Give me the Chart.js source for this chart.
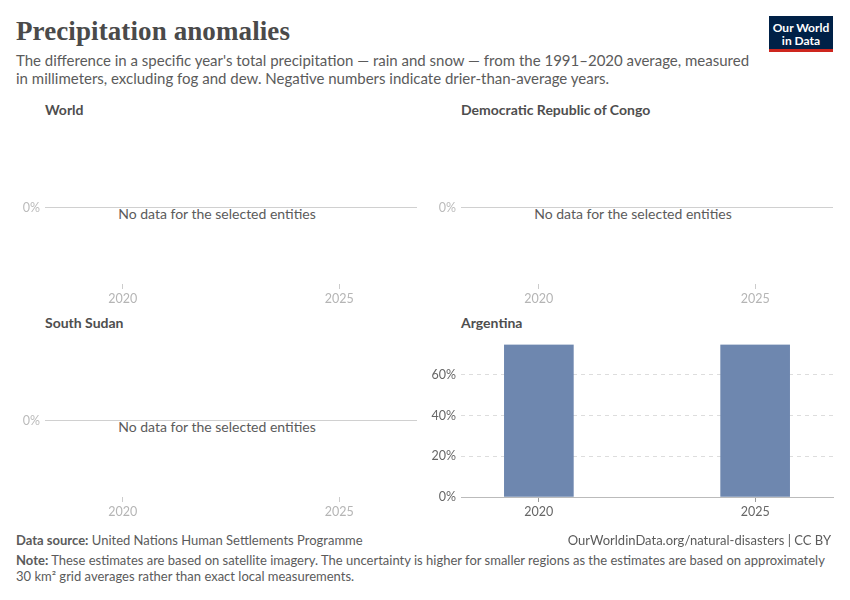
<!DOCTYPE html>
<html>
<head>
<meta charset="utf-8">
<script src="https://cdn.jsdelivr.net/npm/chart.js@4.4.0/dist/chart.umd.min.js"></script>
<style>
  html, body { margin:0; padding:0; background:#fff; }
  body { width:850px; height:600px; position:relative; overflow:hidden; font-family: Lato, "Noto Sans", sans-serif; }
  .abs { position:absolute; }
  #title { left:16px; top:16px; font-family:"Liberation Serif", "DejaVu Serif", serif; font-size:27px; color:#4a4a4a; font-weight:bold; letter-spacing:0.1px; }
  #subtitle { left:16px; top:51px; width:745px; font-size:15px; line-height:18px; color:#5b5b5b; }
  .ptitle { font-size:14px; font-weight:bold; color:#4e4e4e; }
  .nodata { font-size:14px; color:#5b5b5b; text-align:center; width:400px; }
  .foot { font-size:13px; color:#5b5b5b; }
  #logo { left:769px; top:16px; width:64px; height:36px; background:#002147; color:#fff; font-size:12px; font-weight:bold; line-height:13px; text-align:center; box-sizing:border-box; padding-top:5px; border-bottom:3px solid #ce261e; }
  canvas { position:absolute; }
</style>
</head>
<body>
<div id="title" class="abs">Precipitation anomalies</div>
<div id="subtitle" class="abs">The difference in a specific year's total precipitation — rain and snow — from the 1991–2020 average, measured in millimeters, excluding fog and dew. Negative numbers indicate drier-than-average years.</div>
<div id="logo" class="abs">Our World<br>in Data</div>

<div class="abs ptitle" style="left:45px;top:101px;">World</div>
<div class="abs ptitle" style="left:461px;top:101px;">Democratic Republic of Congo</div>
<div class="abs ptitle" style="left:45px;top:314px;">South Sudan</div>
<div class="abs ptitle" style="left:461px;top:314px;">Argentina</div>

<div class="abs nodata" style="left:17px;top:205px;">No data for the selected entities</div>
<div class="abs nodata" style="left:433px;top:205px;">No data for the selected entities</div>
<div class="abs nodata" style="left:17px;top:418px;">No data for the selected entities</div>

<canvas id="c1" style="left:0;top:119px;" width="425" height="192"></canvas>
<canvas id="c2" style="left:420px;top:119px;" width="430" height="192"></canvas>
<canvas id="c3" style="left:0;top:332px;" width="425" height="192"></canvas>
<canvas id="c4" style="left:420px;top:332px;" width="430" height="192"></canvas>

<div class="abs foot" style="left:16px;top:532px;"><b>Data source:</b> United Nations Human Settlements Programme</div>
<div class="abs foot" style="right:19px;top:532px;">OurWorldinData.org/natural-disasters | CC BY</div>
<div class="abs foot" style="left:16px;top:553px;width:812px;line-height:15.5px;font-size:13px;"><b>Note:</b> These estimates are based on satellite imagery. The uncertainty is higher for smaller regions as the estimates are based on approximately 30&nbsp;km² grid averages rather than exact local measurements.</div>

<script>
// ---- data ----
const years = [2020, 2025];
const xTicks = [2020, 2025];
const worldValues = [];
const drcValues = [];
const southSudanValues = [];
const argentinaValues = [75, 75];
const argentinaYTicks = [0, 20, 40, 60];
const emptyYTicks = [0];

Chart.defaults.font.family = 'Lato, "Noto Sans", sans-serif';
Chart.defaults.animation = false;

function pts(vals) { return vals.map((v, i) => ({ x: years[i], y: v })); }

function makeChart(id, vals, opts) {
  const hasData = vals.length > 0;
  const labelColor = hasData ? '#666' : '#b5b5b5';
  return new Chart(document.getElementById(id), {
    type: 'bar',
    data: { datasets: [{ data: pts(vals), backgroundColor: '#6e87af', borderWidth: 0, barThickness: 69 }] },
    options: {
      responsive: false,
      layout: { padding: { left: 0, right: opts.padRight, top: 0, bottom: 0 } },
      plugins: { legend: { display: false }, tooltip: { enabled: false } },
      scales: {
        x: {
          type: 'linear', min: 2018.2, max: 2026.8, offset: false,
          afterBuildTicks: s => { s.ticks = xTicks.map(v => ({ value: v })); },
          afterFit: s => { s.height = 27; },
          ticks: { color: labelColor, font: { size: 12.5 }, padding: 2, callback: v => String(v) },
          grid: { offset: false, drawOnChartArea: false, drawTicks: true, tickLength: 5, color: hasData ? '#999' : '#ccc' },
          border: { display: hasData, color: '#bbb', width: 1 }
        },
        y: {
          min: hasData ? 0 : -1, max: hasData ? 75 : 1,
          afterBuildTicks: s => { s.ticks = (hasData ? argentinaYTicks : emptyYTicks).map(v => ({ value: v })); },
          afterFit: s => { s.width = opts.yWidth; },
          ticks: { color: hasData ? '#666' : '#bbb', font: { size: 12.5 }, padding: 5, callback: v => v + '%' },
          grid: {
            drawTicks: false,
            color: ctx => hasData ? (ctx.tick && ctx.tick.value === 0 ? 'rgba(0,0,0,0)' : '#ddd') : '#d0d0d0'
          },
          border: { display: false, dash: hasData ? [4, 4] : [] }
        }
      }
    }
  });
}

makeChart('c1', worldValues, { yWidth: 45, padRight: 8 });
makeChart('c2', drcValues, { yWidth: 41, padRight: 17 });
makeChart('c3', southSudanValues, { yWidth: 45, padRight: 8 });
makeChart('c4', argentinaValues, { yWidth: 41, padRight: 17 });
</script>
</body>
</html>
